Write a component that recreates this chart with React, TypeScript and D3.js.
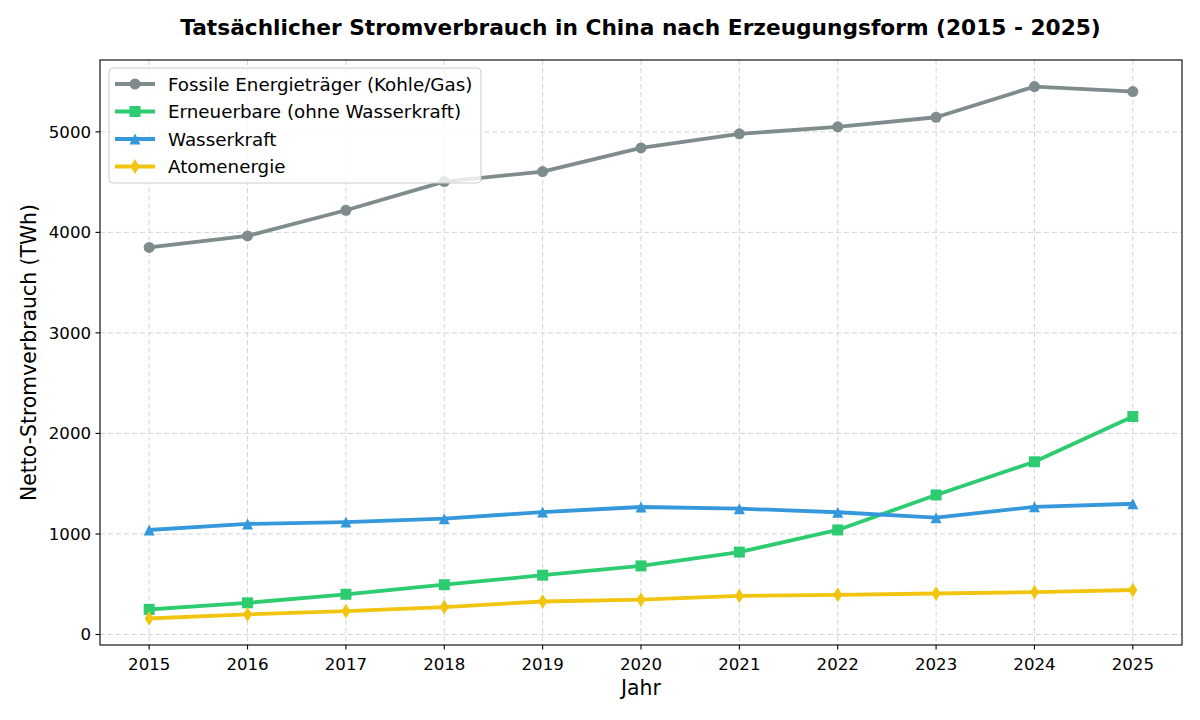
import { line as d3Line, scaleLinear, symbol } from "d3"

const years = [2015, 2016, 2017, 2018, 2019, 2020, 2021, 2022, 2023, 2024, 2025]
const fossilValues = [3850, 3965, 4220, 4505, 4605, 4840, 4980, 5050, 5145, 5450, 5400]
const renewableValues = [250, 315, 400, 495, 590, 682, 820, 1040, 1388, 1718, 2168]
const hydroValues = [1040, 1100, 1118, 1152, 1218, 1268, 1252, 1216, 1162, 1270, 1300]
const nuclearValues = [160, 200, 232, 273, 328, 346, 384, 395, 408, 422, 442]
const yTickValues = [0, 1000, 2000, 3000, 4000, 5000]

type MarkerKind = "circle" | "square" | "triangle" | "thinDiamond"

interface SeriesDef {
  label: string
  values: number[]
  color: string
  marker: MarkerKind
}

const seriesDefs: SeriesDef[] = [
  { label: "Fossile Energieträger (Kohle/Gas)", values: fossilValues, color: "#7f8c8d", marker: "circle" },
  { label: "Erneuerbare (ohne Wasserkraft)", values: renewableValues, color: "#2ecc71", marker: "square" },
  { label: "Wasserkraft", values: hydroValues, color: "#3498db", marker: "triangle" },
  { label: "Atomenergie", values: nuclearValues, color: "#f1c40f", marker: "thinDiamond" },
]

// matplotlib-like marker shapes; size is the marker size squared
const markerTypes = {
  circle: {
    draw(ctx: any, size: number) {
      const r = Math.sqrt(size) / 2
      ctx.moveTo(r, 0)
      ctx.arc(0, 0, r, 0, 2 * Math.PI)
    },
  },
  square: {
    draw(ctx: any, size: number) {
      const h = Math.sqrt(size) / 2
      ctx.rect(-h, -h, 2 * h, 2 * h)
    },
  },
  triangle: {
    draw(ctx: any, size: number) {
      const h = Math.sqrt(size) / 2
      ctx.moveTo(0, -h)
      ctx.lineTo(h, h)
      ctx.lineTo(-h, h)
      ctx.closePath()
    },
  },
  thinDiamond: {
    draw(ctx: any, size: number) {
      const h = (Math.sqrt(size) / 2) * 1.35
      const w = h * 0.6
      ctx.moveTo(0, -h)
      ctx.lineTo(w, 0)
      ctx.lineTo(0, h)
      ctx.lineTo(-w, 0)
      ctx.closePath()
    },
  },
}

const font = "'DejaVu Sans', Verdana, sans-serif"

export default function App() {
  const width = 1200
  const height = 720
  const margin = { top: 60, right: 18, bottom: 75, left: 100 }
  const innerWidth = width - margin.left - margin.right
  const innerHeight = height - margin.top - margin.bottom

  const xScale = scaleLinear().domain([2014.5, 2025.5]).range([0, innerWidth])
  const yScale = scaleLinear().domain([-104.5, 5714.5]).range([innerHeight, 0])

  const lineGen = d3Line<number>()
    .x((_, i) => xScale(years[i]))
    .y((v) => yScale(v))

  const markerSize = 11
  const markerPath = (kind: MarkerKind) => symbol().type(markerTypes[kind] as any).size(markerSize * markerSize)() ?? ""

  const gridColor = "#d4d4d4"
  const legendX = 9
  const legendY = 8
  const rowGap = 27.5

  return (
    <svg width={width} height={height} style={{ display: "block", position: "absolute", left: 0, top: 0, background: "#fff" }} fontFamily={font}>
      <text x={640.5} y={34.5} textAnchor="middle" fontSize="21.7" fontWeight="bold" fill="#000">
        Tatsächlicher Stromverbrauch in China nach Erzeugungsform (2015 - 2025)
      </text>

      <g transform={`translate(${margin.left},${margin.top})`}>
        {years.map((year) => (
          <line key={`gx-${year}`} x1={xScale(year)} x2={xScale(year)} y1={0} y2={innerHeight} stroke={gridColor} strokeWidth={1} strokeDasharray="5 3" />
        ))}
        {yTickValues.map((tick) => (
          <line key={`gy-${tick}`} x1={0} x2={innerWidth} y1={yScale(tick)} y2={yScale(tick)} stroke={gridColor} strokeWidth={1} strokeDasharray="5 3" />
        ))}

        {seriesDefs.map((series) => (
          <g key={series.label}>
            <path d={lineGen(series.values) ?? ""} fill="none" stroke={series.color} strokeWidth={3.8} strokeLinejoin="round" strokeLinecap="square" />
            {series.values.map((v, i) => (
              <path key={i} d={markerPath(series.marker)} transform={`translate(${xScale(years[i])},${yScale(v)})`} fill={series.color} />
            ))}
          </g>
        ))}

        <rect x={0} y={0} width={innerWidth} height={innerHeight} fill="none" stroke="#000" strokeWidth={1.1} />

        {years.map((year) => (
          <g key={`tx-${year}`} transform={`translate(${xScale(year)},${innerHeight})`}>
            <line y1={0} y2={4.5} stroke="#000" strokeWidth={1.1} />
            <text y={25} textAnchor="middle" fontSize="16.6" fill="#000">{year}</text>
          </g>
        ))}
        {yTickValues.map((tick) => (
          <g key={`ty-${tick}`} transform={`translate(0,${yScale(tick)})`}>
            <line x1={-4.5} x2={0} stroke="#000" strokeWidth={1.1} />
            <text x={-9} dy="0.36em" textAnchor="end" fontSize="16.6" fill="#000">{tick}</text>
          </g>
        ))}

        <text x={innerWidth / 2} y={innerHeight + 50} textAnchor="middle" fontSize="20.4" fill="#000">Jahr</text>
        <text transform={`translate(${-64},${innerHeight / 2}) rotate(-90)`} textAnchor="middle" fontSize="20.4" fill="#000">
          Netto-Stromverbrauch (TWh)
        </text>

        <g transform={`translate(${legendX},${legendY})`}>
          <rect x={0} y={0} width={372} height={115} rx={4} fill="#fff" fillOpacity={0.8} stroke="#cccccc" strokeWidth={1} />
          {seriesDefs.map((series, i) => {
            const cy = 16 + i * rowGap
            return (
              <g key={`lg-${series.label}`}>
                <line x1={6} x2={46} y1={cy} y2={cy} stroke={series.color} strokeWidth={3.8} />
                <path d={markerPath(series.marker)} transform={`translate(26,${cy})`} fill={series.color} />
                <text x={59} y={cy} dy="0.36em" fontSize="18.3" fill="#000">{series.label}</text>
              </g>
            )
          })}
        </g>
      </g>
    </svg>
  )
}
